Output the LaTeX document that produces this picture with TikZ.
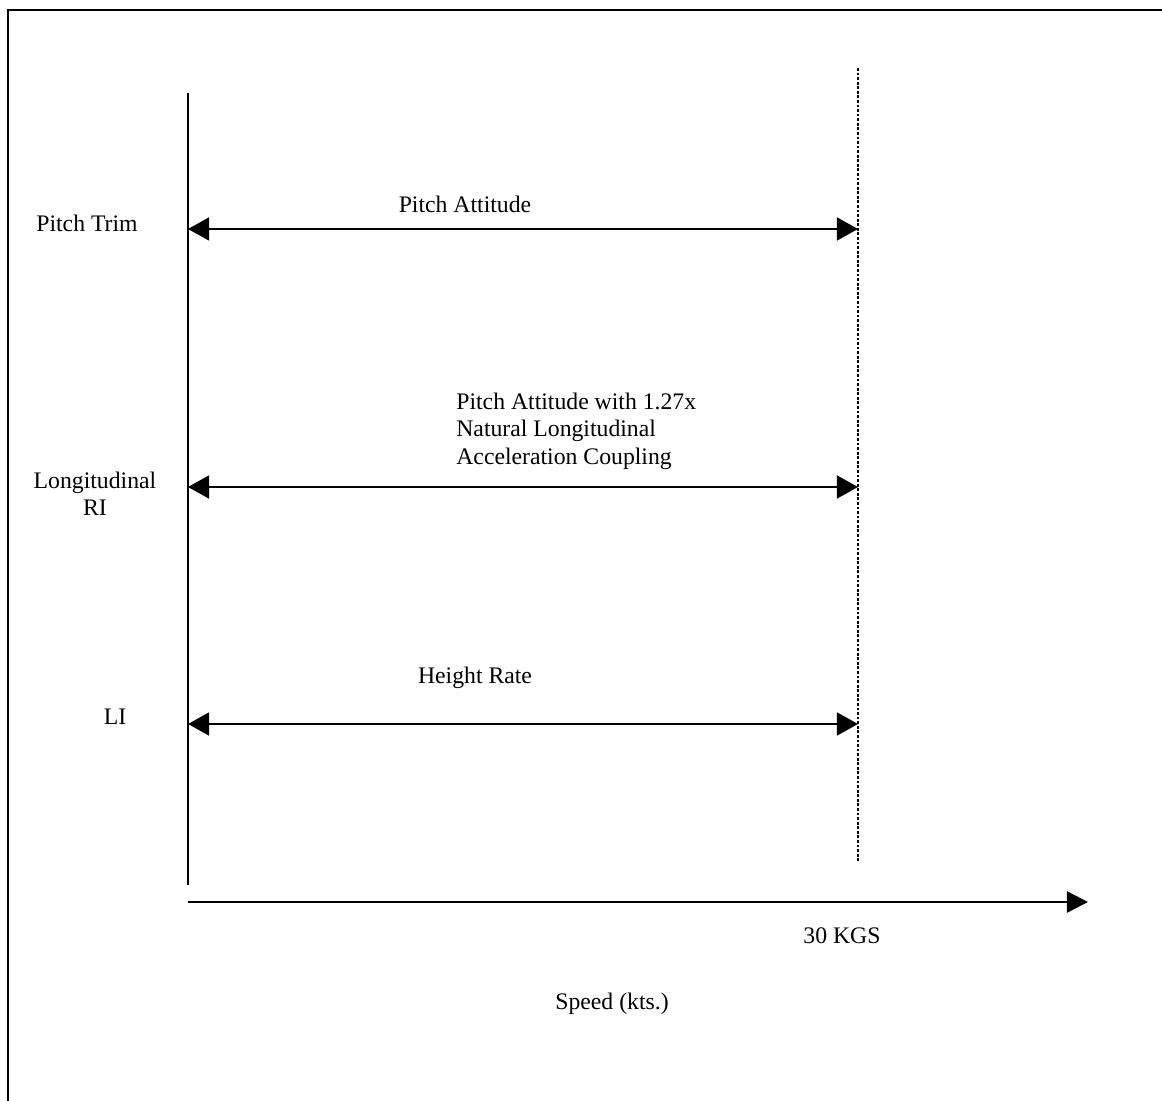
\documentclass[tikz,border=0pt]{standalone}
\usepackage{fontspec}
\setmainfont{Liberation Serif}
\usetikzlibrary{positioning, arrows.meta}
\tikzset{
  modearrow/.style = {{Triangle[length=12pt,width=13pt]}-{Triangle[length=12pt,width=13pt]}, line width=1.3pt},
  axisline/.style  = {line width=1.3pt},
  limitline/.style = {densely dotted, line width=1.6pt},
  modelabel/.style = {font=\fontsize{13.5}{15.6}\selectfont, inner sep=0pt},
  rowlabel/.style  = {font=\fontsize{13.5}{15.6}\selectfont, inner sep=0pt, align=center}
}
\begin{document}
\begin{tikzpicture}[x=0.02cm, y=-0.02cm]
\useasboundingbox (0,0) rectangle (1162,1101);
% frame (cropped: top and left only)
\draw[line width=1.6pt] (8,1101) -- (8,10) -- (1162,10);

% axes
\coordinate (vtop) at (188,93);
\coordinate (vbot) at (188,885);
\coordinate (hleft) at (188,902);
\coordinate (hright) at (1088,902);
\coordinate (ltop) at (858,68);
\coordinate (lbot) at (858,862);
\draw[axisline] (vtop) -- (vbot);
\draw[axisline, -{Triangle[length=12pt,width=12pt]}] (hleft) -- (hright);
\draw[limitline] (ltop) -- (lbot);

% mode ranges
\coordinate (trimL) at (188,229);
\coordinate (trimR) at (858,229);
\coordinate (riL) at (188,487);
\coordinate (riR) at (858,487);
\coordinate (liL) at (188,724);
\coordinate (liR) at (858,724);
\draw[modearrow] (trimL) -- (trimR);
\draw[modearrow] (riL) -- (riR);
\draw[modearrow] (liL) -- (liR);

% labels
\node[rowlabel] (trim) at (87,223) {Pitch Trim};
\node[rowlabel] (ri) at (95,494) {Longitudinal\\RI};
\node[rowlabel] (li) at (115,717) {LI};
\node[modelabel] (att) at (465,204) {Pitch Attitude};
\node[modelabel, align=left, anchor=west] (attacc) at (456,431)
  {Pitch Attitude with 1.27x\\Natural Longitudinal\\Acceleration Coupling};
\node[modelabel] (hrate) at (475,678) {Height Rate};
\node[modelabel] (kgs) at (842,936) {30 KGS};
\node[modelabel] (speed) at (612,1004) {Speed (kts.)};
\end{tikzpicture}
\end{document}
